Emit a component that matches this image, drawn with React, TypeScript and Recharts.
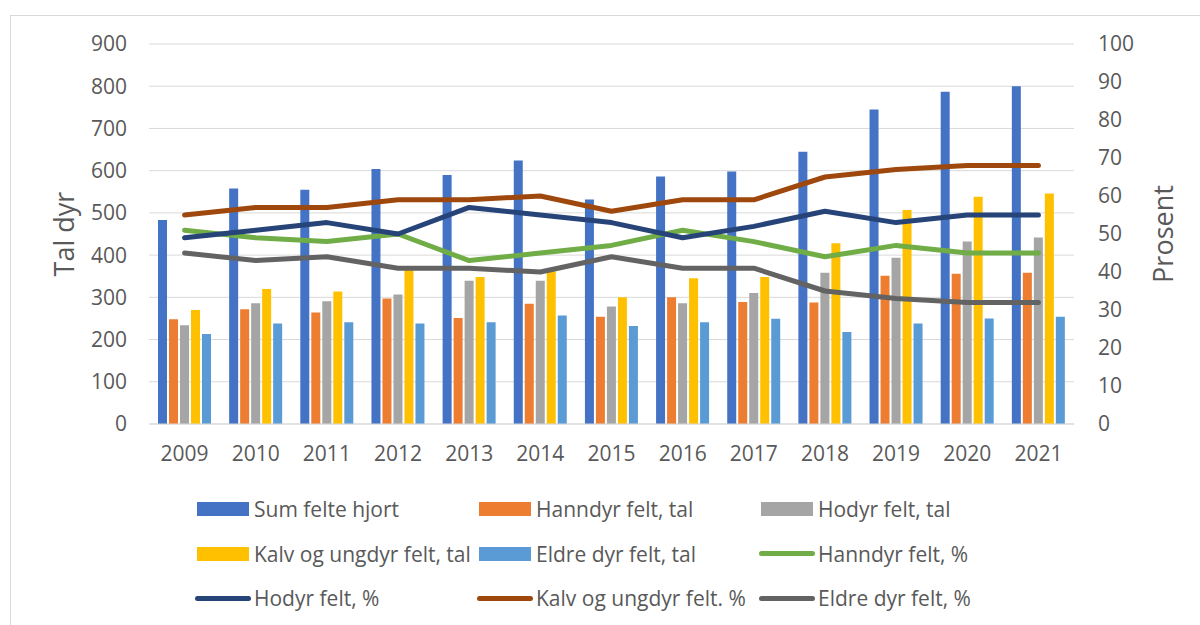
import React from "react"
import { ComposedChart, Bar, Line, XAxis, YAxis, CartesianGrid, Legend } from "recharts"

// Years on the x axis
const years = ["2009", "2010", "2011", "2012", "2013", "2014", "2015", "2016", "2017", "2018", "2019", "2020", "2021"]

// Counts (left axis)
const sumFelteHjort = [483, 558, 555, 604, 590, 624, 532, 586, 598, 645, 745, 787, 800]
const hanndyrTal = [248, 272, 264, 297, 251, 285, 254, 300, 289, 288, 351, 356, 358]
const hodyrTal = [234, 286, 291, 307, 339, 339, 278, 286, 310, 358, 394, 432, 442]
const kalvTal = [270, 320, 314, 365, 348, 362, 300, 345, 348, 428, 507, 538, 546]
const eldreTal = [213, 238, 241, 238, 241, 257, 232, 241, 249, 218, 238, 250, 254]

// Shares in percent (right axis)
const hanndyrPst = [51, 49, 48, 50, 43, 45, 47, 51, 48, 44, 47, 45, 45]
const hodyrPst = [49, 51, 53, 50, 57, 55, 53, 49, 52, 56, 53, 55, 55]
const kalvPst = [55, 57, 57, 59, 59, 60, 56, 59, 59, 65, 67, 68, 68]
const eldrePst = [45, 43, 44, 41, 41, 40, 44, 41, 41, 35, 33, 32, 32]

const leftTicks = [0, 100, 200, 300, 400, 500, 600, 700, 800, 900]
const rightTicks = [0, 10, 20, 30, 40, 50, 60, 70, 80, 90, 100]

type SeriesInfo = { key: string, name: string, color: string, kind: "bar" | "line" }

const barSeries: SeriesInfo[] = [
    { key: "sum", name: "Sum felte hjort", color: "#4472C4", kind: "bar" },
    { key: "hanndyr", name: "Hanndyr felt, tal", color: "#ED7D31", kind: "bar" },
    { key: "hodyr", name: "Hodyr felt, tal", color: "#A5A5A5", kind: "bar" },
    { key: "kalv", name: "Kalv og ungdyr felt, tal", color: "#FFC000", kind: "bar" },
    { key: "eldre", name: "Eldre dyr felt, tal", color: "#5B9BD5", kind: "bar" },
]

const lineSeries: SeriesInfo[] = [
    { key: "hanndyrPst", name: "Hanndyr felt, %", color: "#70AD47", kind: "line" },
    { key: "hodyrPst", name: "Hodyr felt, %", color: "#264478", kind: "line" },
    { key: "kalvPst", name: "Kalv og ungdyr felt. %", color: "#9E480E", kind: "line" },
    { key: "eldrePst", name: "Eldre dyr felt, %", color: "#636363", kind: "line" },
]

const data = years.map((year, i) => ({
    year,
    sum: sumFelteHjort[i],
    hanndyr: hanndyrTal[i],
    hodyr: hodyrTal[i],
    kalv: kalvTal[i],
    eldre: eldreTal[i],
    hanndyrPst: hanndyrPst[i],
    hodyrPst: hodyrPst[i],
    kalvPst: kalvPst[i],
    eldrePst: eldrePst[i],
}))

const FONT = "'Open Sans', sans-serif"
const TEXT_COLOR = "#595959"
const GRID_COLOR = "#D9D9D9"

function renderLegend() {
    const items = [...barSeries, ...lineSeries]
    return (
        <div style={{
            display: "grid",
            gridTemplateColumns: "282px 282px 282px",
            gridAutoRows: "44.5px",
            paddingLeft: 197,
            fontFamily: FONT,
            fontSize: 21,
            color: TEXT_COLOR,
        }}>
            {items.map(item => (
                <div key={item.key} style={{ display: "flex", alignItems: "center", whiteSpace: "nowrap" }}>
                    {item.kind === "bar"
                        ? <div style={{ width: 52, height: 14, background: item.color }} />
                        : <div style={{ width: 56, height: 5, marginLeft: -2, marginRight: -2, borderRadius: 3, background: item.color }} />}
                    <span style={{ marginLeft: 5 }}>{item.name}</span>
                </div>
            ))}
        </div>
    )
}

function AxisTitle(props: { x: number, y: number, text: string }) {
    return (
        <text x={props.x} y={props.y} transform={`rotate(-90 ${props.x} ${props.y})`}
            textAnchor="middle" dominantBaseline="central"
            fontFamily={FONT} fontSize={27} fill={TEXT_COLOR}>
            {props.text}
        </text>
    )
}

export default function App() {
    const tickStyle = { fontFamily: FONT, fontSize: 21, fill: TEXT_COLOR }

    return (
        <div style={{ position: "fixed", left: 0, top: 0, width: 1200, height: 625, overflow: "hidden", background: "#fff" }}>
            <div style={{ position: "absolute", left: 10, top: 15, width: 1250, height: 700, border: "1px solid #D9D9D9" }} />
            <div style={{ position: "absolute", left: 0, top: 0 }}>
                <ComposedChart width={1200} height={625} data={data}
                    margin={{ top: 44, right: 0, left: 0, bottom: 161 }}
                    barSize={9} barGap={2}>
                    <CartesianGrid yAxisId="left" vertical={false} stroke={GRID_COLOR} strokeWidth={1} />
                    <XAxis dataKey="year" height={40} tickLine={false} tickSize={0} tickMargin={22}
                        axisLine={{ stroke: GRID_COLOR }} tick={tickStyle} interval={0} />
                    <YAxis yAxisId="left" width={149} domain={[0, 900]} ticks={leftTicks}
                        axisLine={false} tickLine={false} tickSize={0} tickMargin={22} tick={tickStyle}
                        label={{ content: () => <AxisTitle x={63} y={234} text="Tal dyr" /> }} />
                    <YAxis yAxisId="right" orientation="right" width={126} domain={[0, 100]} ticks={rightTicks}
                        axisLine={false} tickLine={false} tickSize={0} tickMargin={24}
                        tick={{ ...tickStyle, textAnchor: "start" }}
                        label={{ content: () => <AxisTitle x={1162} y={234} text="Prosent" /> }} />
                    {barSeries.map(s => (
                        <Bar key={s.key} yAxisId="left" dataKey={s.key} name={s.name} fill={s.color} isAnimationActive={false} />
                    ))}
                    {lineSeries.map(s => (
                        <Line key={s.key} yAxisId="right" type="linear" dataKey={s.key} name={s.name} stroke={s.color}
                            strokeWidth={5} strokeLinecap="round" strokeLinejoin="round" dot={false} activeDot={false}
                            isAnimationActive={false} />
                    ))}
                    <Legend content={renderLegend} layout="horizontal" verticalAlign="middle" align="center"
                        wrapperStyle={{ left: 0, top: 487, width: 1200, height: 135 }} />
                </ComposedChart>
            </div>
        </div>
    )
}
